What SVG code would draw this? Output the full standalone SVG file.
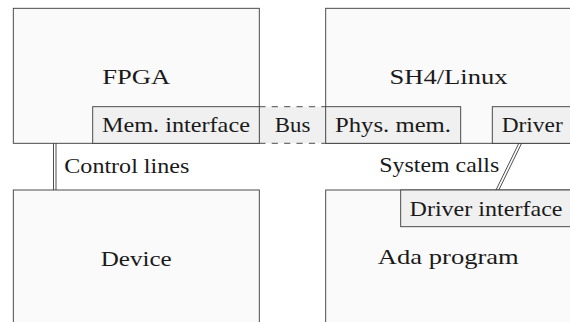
<svg xmlns="http://www.w3.org/2000/svg" width="570" height="322" viewBox="0 0 570 322">
  <style>
    .box { fill: #fafafa; stroke: #3a3a3a; stroke-width: 0.9; }
    .sub { fill: #f0f0f0; stroke: #3a3a3a; stroke-width: 0.9; }
    .bus { fill: #f0f0f0; stroke: none; }
    .dash { fill: none; stroke: #3a3a3a; stroke-width: 0.9; stroke-dasharray: 6.2 6.2; }
    .lbl { font-family: "Liberation Serif", serif; font-size: 22px; fill: #1a1a1a; }
    .conn { fill: none; stroke: #3a3a3a; stroke-width: 0.9; }
  </style>
  <rect width="570" height="322" fill="#ffffff"/>

  <g id="fpga">
    <rect class="box" x="13.3" y="8.3" width="246" height="135"/>
    <text class="lbl" x="136.2" y="84" text-anchor="middle" textLength="68" lengthAdjust="spacingAndGlyphs">FPGA</text>
  </g>
  <g id="sh4-linux">
    <rect class="box" x="325.7" y="8.3" width="260" height="135"/>
    <text class="lbl" x="448.5" y="83.5" text-anchor="middle" textLength="118" lengthAdjust="spacingAndGlyphs">SH4/Linux</text>
  </g>
  <g id="device">
    <rect class="box" x="13.3" y="190" width="246" height="150"/>
    <text class="lbl" x="136.2" y="266" text-anchor="middle" textLength="71" lengthAdjust="spacingAndGlyphs">Device</text>
  </g>
  <g id="ada-program">
    <rect class="box" x="325.7" y="190" width="260" height="150"/>
    <text class="lbl" x="448.3" y="263.5" text-anchor="middle" textLength="141" lengthAdjust="spacingAndGlyphs">Ada program</text>
  </g>

  <g id="bus">
    <rect class="bus" x="259.3" y="106.7" width="66.4" height="36.6"/>
    <line class="dash" x1="259.3" y1="106.7" x2="325.7" y2="106.7"/>
    <line class="dash" x1="259.3" y1="143.3" x2="325.7" y2="143.3"/>
    <text class="lbl" x="292.6" y="132.3" text-anchor="middle" textLength="35.5" lengthAdjust="spacingAndGlyphs">Bus</text>
  </g>
  <g id="mem-interface">
    <rect class="sub" x="92.7" y="106.7" width="166.6" height="36.6"/>
    <text class="lbl" x="175.9" y="132.3" text-anchor="middle" textLength="148" lengthAdjust="spacingAndGlyphs">Mem. interface</text>
  </g>
  <g id="phys-mem">
    <rect class="sub" x="325.7" y="106.7" width="135" height="36.6"/>
    <text class="lbl" x="393" y="132.3" text-anchor="middle" textLength="116" lengthAdjust="spacingAndGlyphs">Phys. mem.</text>
  </g>
  <g id="driver">
    <rect class="sub" x="492.3" y="106.7" width="90" height="36.6"/>
    <text class="lbl" x="532.2" y="132.3" text-anchor="middle" textLength="61" lengthAdjust="spacingAndGlyphs">Driver</text>
  </g>
  <g id="driver-interface">
    <rect class="sub" x="400.7" y="190" width="180" height="36.7"/>
    <text class="lbl" x="486" y="216" text-anchor="middle" textLength="153" lengthAdjust="spacingAndGlyphs">Driver interface</text>
  </g>

  <g id="connectors">
    <g id="control-lines">
      <line class="conn" x1="53.5" y1="143.3" x2="53.5" y2="190"/>
      <line class="conn" x1="56" y1="143.3" x2="56" y2="190"/>
      <text class="lbl" x="64.3" y="173.3" textLength="125" lengthAdjust="spacingAndGlyphs">Control lines</text>
    </g>
    <g id="system-calls">
      <line class="conn" x1="518.8" y1="143.3" x2="496" y2="190"/>
      <line class="conn" x1="521.6" y1="143.3" x2="498.8" y2="190"/>
      <text class="lbl" x="379.3" y="171.7" textLength="120" lengthAdjust="spacingAndGlyphs">System calls</text>
    </g>
  </g>
</svg>
